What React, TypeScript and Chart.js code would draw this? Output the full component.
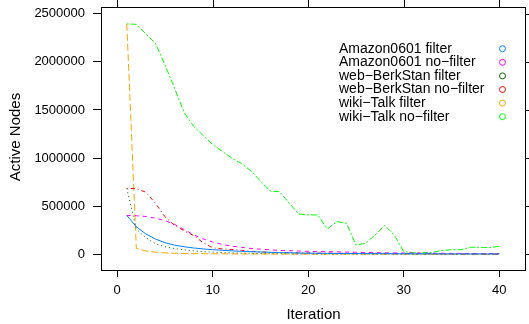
import React, { useEffect, useRef } from "react";
import { Chart, registerables } from "chart.js";

Chart.register(...registerables);

const iterations = [1, 2, 3, 4, 5, 6, 7, 8, 9, 10, 11, 12, 13, 14, 15, 16, 17, 18, 19, 20, 21, 22, 23, 24, 25, 26, 27, 28, 29, 30, 31, 32, 33, 34, 35, 36, 37, 38, 39, 40];

const seriesNames = [
  "Amazon0601 filter",
  "Amazon0601 no\u2212filter",
  "web\u2212BerkStan filter",
  "web\u2212BerkStan no\u2212filter",
  "wiki\u2212Talk filter",
  "wiki\u2212Talk no\u2212filter",
];

const amazonFilter = [403394, 287000, 211000, 159000, 121000, 95000, 79000, 66000, 56000, 48000, 42000, 36000, 31000, 27000, 24000, 21000, 18000, 16000, 14000, 12000, 11000, 10000, 9000, 8500, 8000, 7500, 7000, 6500, 6000, 5500, 5200, 5000, 4800, 4600, 4400, 4200, 4000, 3800, 3600, 3500];

const amazonNoFilter = [403394, 401000, 393000, 375000, 350000, 312000, 258000, 203000, 160000, 128000, 102000, 84000, 73000, 61000, 53000, 47000, 41000, 37000, 34000, 31000, 29000, 27000, 25000, 23000, 21000, 19000, 18000, 16000, 15000, 14000, 13000, 12000, 11000, 10500, 10000, 9500, 9000, 8500, 8000, 7500];

const berkStanFilter = [685230, 262000, 172000, 110000, 78000, 60000, 46000, 36000, 28000, 22000, 18000, 15000, 12000, 10000, 8500, 7000, 6000, 5000, 4500, 4000, 3500, 3000, 2800, 2600, 2400, 2200, 2000, 1900, 1800, 1700, 1600, 1500, 1400, 1300, 1200, 1100, 1000, 900, 800, 700];

const berkStanNoFilter = [685230, 683000, 645000, 530000, 390000, 300000, 245000, 195000, 120000, 68000, 56000, 50000, 42000, 31000, 25000, 21000, 19000, 17000, 15000, 14000, 13000, 12000, 11000, 10500, 10000, 9500, 9000, 8500, 8000, 7500, 7000, 6500, 6000, 5500, 5000, 4600, 4200, 3800, 3400, 3000];

const wikiTalkFilter = [2394385, 62000, 35000, 22000, 15000, 11000, 9000, 7500, 6500, 5500, 5000, 4600, 4200, 3900, 3600, 3300, 3000, 2800, 2600, 2400, 2200, 2000, 1900, 1800, 1700, 1600, 1500, 1400, 1300, 1200, 1100, 1000, 950, 900, 850, 800, 750, 700, 650, 600];

const wikiTalkNoFilter = [2394385, 2390000, 2290000, 2193000, 1968000, 1725000, 1475000, 1330000, 1235000, 1140000, 1070000, 998000, 944000, 866000, 762000, 658000, 651000, 533000, 419000, 409000, 409000, 263000, 339000, 322000, 97000, 114000, 201000, 301000, 201000, 27000, 17000, 17000, 20000, 40000, 48000, 48000, 73000, 73000, 70000, 83000];

const xTicks = [0, 10, 20, 30, 40];
const yTicks = [0, 500000, 1000000, 1500000, 2000000, 2500000];

const seriesValues = [amazonFilter, amazonNoFilter, berkStanFilter, berkStanNoFilter, wikiTalkFilter, wikiTalkNoFilter];
const seriesColors = ["#0080ff", "#ff00ff", "#006400", "#ff0000", "#ffa500", "#00ff00"];
const seriesDashes: number[][] = [[], [4, 4], [1, 3], [1, 3, 4, 3], [7, 3], [2, 2, 6, 2]];

const FONT = "'Liberation Sans', Arial, Helvetica, sans-serif";

const framePlugin = {
  id: "latticeFrame",
  afterDraw(chart: any) {
    const ctx = chart.ctx;
    const { left, right, top, bottom } = chart.chartArea;
    const xs = chart.scales.x;
    const ys = chart.scales.y;
    ctx.save();
    ctx.strokeStyle = "#000";
    ctx.lineWidth = 1;
    ctx.setLineDash([]);
    ctx.strokeRect(Math.round(left) + 0.5, Math.round(top) + 0.5, Math.round(right - left) - 1, Math.round(bottom - top));
    ctx.beginPath();
    xTicks.forEach((v) => {
      const px = Math.round(xs.getPixelForValue(v)) + 0.5;
      ctx.moveTo(px, top);
      ctx.lineTo(px, top - 7);
    });
    yTicks.forEach((v) => {
      const py = Math.round(ys.getPixelForValue(v)) + 0.5;
      ctx.moveTo(right, py);
      ctx.lineTo(right + 7, py);
    });
    ctx.stroke();

    // axis titles
    ctx.fillStyle = "#000";
    ctx.font = `15px ${FONT}`;
    ctx.textAlign = "center";
    ctx.textBaseline = "middle";
    ctx.fillText("Iteration", (left + right) / 2, 315);
    ctx.save();
    ctx.translate(16, 137);
    ctx.rotate(-Math.PI / 2);
    ctx.fillText("Active Nodes", 0, 0);
    ctx.restore();

    // legend
    ctx.font = `14px ${FONT}`;
    ctx.textAlign = "left";
    ctx.textBaseline = "middle";
    chart.data.datasets.forEach((ds: any, i: number) => {
      const y = 48.7 + i * 13.6;
      ctx.fillStyle = "#000";
      ctx.fillText(ds.label, 339, y);
      ctx.beginPath();
      ctx.strokeStyle = ds.borderColor;
      ctx.lineWidth = 1;
      ctx.arc(502.5, y, 3, 0, Math.PI * 2);
      ctx.stroke();
    });
    ctx.restore();
  },
};

export default function App() {
  const ref = useRef<HTMLCanvasElement | null>(null);
  useEffect(() => {
    if (!ref.current) return;
    const tickFont = { family: FONT, size: 13 };
    const chart = new Chart(ref.current, {
      type: "line",
      data: {
        datasets: seriesNames.map((name, i) => ({
          label: name,
          data: iterations.map((it, k) => ({ x: it, y: seriesValues[i][k] })),
          borderColor: seriesColors[i],
          backgroundColor: seriesColors[i],
          borderDash: seriesDashes[i],
          borderWidth: 1,
          pointRadius: 0,
          tension: 0,
          fill: false,
        })),
      },
      options: {
        animation: false,
        responsive: false,
        devicePixelRatio: 1,
        layout: { padding: { top: 7, right: 3, left: 0, bottom: 0 } },
        plugins: { legend: { display: false }, tooltip: { enabled: false }, title: { display: false } },
        scales: {
          x: {
            type: "linear",
            position: "bottom",
            min: -1.7,
            max: 42.8,
            afterBuildTicks: (s: any) => {
              s.ticks = xTicks.map((v) => ({ value: v }));
            },
            afterFit: (s: any) => {
              s.height = 54;
              s.paddingLeft = 0;
              s.paddingRight = 0;
            },
            ticks: { font: tickFont, color: "#000", padding: 6, maxRotation: 0, autoSkip: false },
            grid: { drawOnChartArea: false, drawTicks: true, tickLength: 7, color: "#000" },
            border: { display: false },
          },
          y: {
            type: "linear",
            min: -163000,
            max: 2570000,
            afterBuildTicks: (s: any) => {
              s.ticks = yTicks.map((v) => ({ value: v }));
            },
            afterFit: (s: any) => {
              s.width = 101;
              s.paddingTop = 0;
              s.paddingBottom = 0;
            },
            ticks: { font: tickFont, color: "#000", padding: 8, autoSkip: false, callback: (v: any) => String(v) },
            grid: { drawOnChartArea: false, drawTicks: true, tickLength: 8, color: "#000" },
            border: { display: false },
          },
        },
      },
      plugins: [framePlugin],
    } as any);
    return () => chart.destroy();
  }, []);
  return (
    <div style={{ position: "absolute", left: 0, top: 0, width: 529, height: 324, background: "#fff" }}>
      <canvas ref={ref} width={529} height={324} style={{ display: "block" }} />
    </div>
  );
}
